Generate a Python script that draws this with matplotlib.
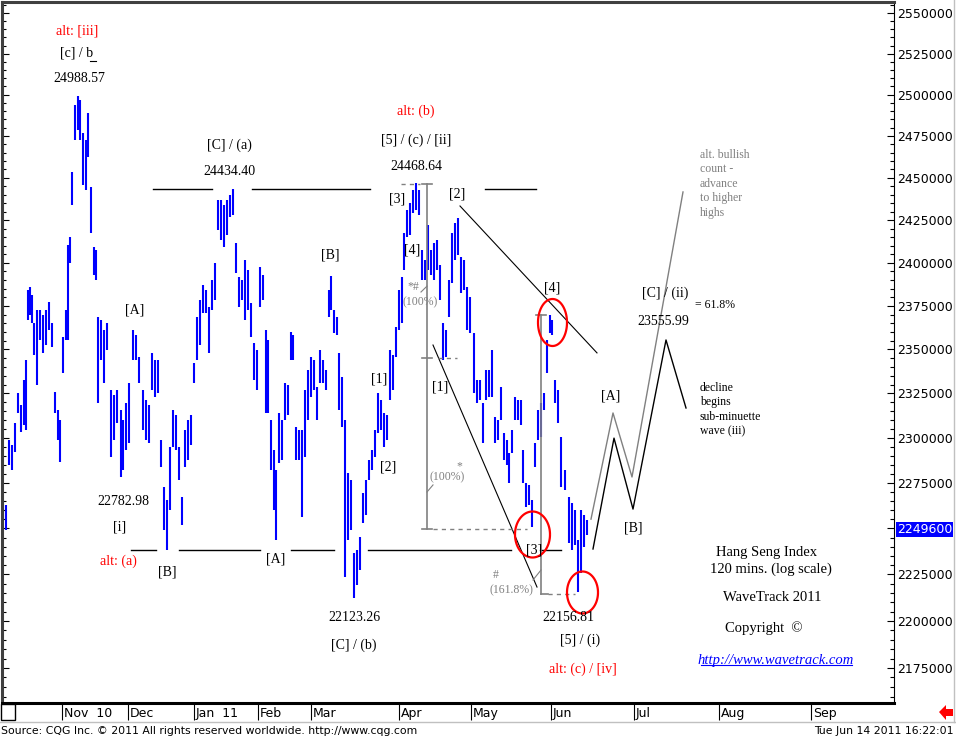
# load in packages
import numpy as np
import matplotlib
matplotlib.use("Agg")
import matplotlib.pyplot as plt
from matplotlib.path import Path
from matplotlib.lines import Line2D
from matplotlib.patches import Rectangle, Polygon
from matplotlib.ticker import FixedLocator, FuncFormatter, NullFormatter, NullLocator

# 120 min bars of the Hang Seng (x = session index)
bar_x = [3, 6, 9, 12, 15, 18, 21, 24, 26, 28, 30, 32, 34, 37, 40, 43, 46, 49, 52, 55,
         58, 60, 63, 66, 68, 70, 72, 75, 78, 80, 83, 86, 88, 91, 94, 96, 98, 101, 104, 107,
         111, 114, 117, 121, 123, 126, 129, 133, 136, 139, 143, 146, 149, 152, 155, 158, 161, 164, 167, 170,
         173, 176, 179, 182, 185, 188, 191, 194, 197, 200, 203, 206, 209, 212, 215, 218, 221, 224, 227, 230,
         233, 236, 239, 242, 245, 248, 251, 254, 257, 260, 263, 266, 268, 271, 274, 276, 279, 282, 285, 288,
         291, 293, 296, 299, 302, 305, 308, 311, 314, 317, 320, 323, 326, 329, 331, 334, 337, 339, 342, 345,
         348, 351, 354, 357, 360, 363, 366, 369, 372, 375, 378, 381, 384, 387, 390, 393, 396, 399, 402, 404,
         407, 410, 413, 416, 419, 422, 425, 428, 431, 434, 437, 440, 443, 446, 449, 452, 455, 458, 461, 464,
         467, 470, 474, 477, 480, 483, 486, 489, 492, 495, 498, 501, 504, 507, 509, 512, 515, 518, 521, 523,
         526, 529, 532, 535, 538, 541, 544, 547, 550, 552, 555, 558, 561, 565, 569, 572, 575, 578, 581, 584,
         587]
bar_hi = [22655, 22630, 22990, 22960, 23085, 23250, 23185, 23325, 23440, 23840, 23860, 23810, 23650, 23725, 23725, 23695, 23725, 23770, 23650, 23260,
          23155, 23100, 23570, 23725, 24105, 24150, 24535, 24935, 24989, 24965, 24770, 24725, 24890, 24445, 24090, 24075, 23685, 23670, 23610, 23650,
          23270, 23240, 23270, 23155, 23100, 23195, 23310, 23610, 23580, 23455, 23270, 23215, 23185, 23480, 23440, 23440, 22990, 22730, 22655, 22950,
          23155, 23130, 22950, 22670, 23045, 23100, 23130, 23425, 23685, 23785, 23870, 23840, 23745, 23900, 24000, 24370, 24370, 24340, 24370, 24400,
          24434, 24115, 23915, 23900, 24015, 23955, 23765, 23535, 23495, 23975, 23930, 23610, 23555, 23100, 22935, 22820, 23140, 23100, 23310, 23300,
          23600, 23580, 23060, 23045, 23045, 23270, 23385, 23455, 23440, 23285, 23495, 23440, 23385, 23840, 23920, 23725, 23685, 23480, 23345, 23100,
          22805, 22765, 22365, 22380, 22455, 22695, 22765, 22875, 22935, 23045, 23250, 23215, 23140, 23130, 23495, 23470, 23630, 23840, 23915, 24175,
          24310, 24350, 24430, 24469, 24430, 24075, 24015, 24220, 24075, 24115, 24135, 23985, 23650, 23610, 23900, 24175, 24230, 24260, 24035, 24015,
          23860, 23800, 23595, 23325, 23325, 23195, 23385, 23385, 23495, 23115, 23100, 23285, 23025, 22990, 22915, 23045, 23230, 23215, 23215, 22935,
          22750, 22740, 22655, 22970, 23155, 23195, 23250, 23555, 23695, 23670, 23325, 23270, 23005, 22820, 22670, 22640, 22600, 22435, 22600, 22575,
          22545]
bar_lo = [22545, 22490, 22850, 22820, 22920, 23140, 23035, 23070, 23045, 23670, 23695, 23650, 23470, 23300, 23555, 23480, 23525, 23610, 23515, 23140,
          22990, 22865, 23365, 23555, 23555, 24000, 24340, 24725, 24785, 24725, 24460, 24430, 24625, 24175, 23930, 23900, 23195, 23440, 23310, 23495,
          22895, 22990, 23085, 22783, 22820, 22935, 22970, 23440, 23440, 23310, 23045, 22990, 22970, 23270, 23230, 23250, 22840, 22490, 22380, 22600,
          22950, 22935, 22765, 22520, 22840, 22875, 22960, 23310, 23440, 23525, 23710, 23710, 23480, 23725, 23785, 24190, 24133, 24090, 24160, 24270,
          24280, 23940, 23745, 23785, 23670, 23725, 23570, 23325, 23270, 23745, 23785, 23140, 23140, 22820, 22600, 22435, 22860, 22875, 23100, 23130,
          23440, 23440, 22875, 22875, 22565, 22895, 23100, 23230, 23270, 23100, 23310, 23310, 23270, 23685, 23725, 23595, 23580, 23155, 23060, 22235,
          22435, 22490, 22123, 22195, 22275, 22530, 22575, 22765, 22820, 22895, 23025, 23045, 22950, 22990, 23215, 23270, 23455, 23610, 23650, 23955,
          24150, 24160, 24290, 24310, 24280, 23900, 23900, 23955, 23930, 23900, 23955, 23785, 23440, 23455, 23685, 23880, 24015, 24045, 23825, 23840,
          23610, 23595, 23250, 23195, 23215, 22970, 23215, 23230, 23230, 22970, 22990, 23100, 22875, 22850, 22750, 22915, 23100, 23100, 23070, 22750,
          22615, 22630, 22510, 22840, 22990, 23005, 23155, 23365, 23595, 23580, 23195, 23085, 22730, 22710, 22420, 22380, 22410, 22157, 22260, 22400,
          22465]
last_price = 22496

# month starts on the session axis
month_pos = [62, 128, 194, 258, 311, 399, 471, 551, 634, 719, 811]
month_lab = ["Nov  10", "Dec", "Jan  11", "Feb", "Mar", "Apr", "May", "Jun", "Jul", "Aug", "Sep"]

# projected paths
proj_x = [593, 614, 633, 666, 686]
proj_y = [22388, 22999, 22606, 23554, 23168]
alt_x = [591, 613, 632, 683]
alt_y = [22551, 23140, 22783, 24416]

# horizontal levels
upper_level = 24434.40
lower_level = 22382

SERIF = "Liberation Serif"
RED = "#ff0000"
GRAY = "#808080"

fig = plt.figure(figsize=(9.56, 7.39), dpi=100)
fig.patch.set_facecolor("white")
ax = fig.add_axes([2 / 956, 36 / 739, 892 / 956, 701 / 739])
ax.set_yscale("log")
ax.set_xlim(2, 894)
ax.set_ylim(21566, 25569)

# price bars
ax.vlines(bar_x, bar_lo, bar_hi, color="#0000ff", lw=1.5)

# y axis (values x 100 like the CQG scale)
major = np.arange(21750, 25501, 250)
ax.yaxis.set_major_locator(FixedLocator(major))
ax.yaxis.set_minor_locator(FixedLocator(np.arange(21600, 25551, 50)))
ax.yaxis.set_major_formatter(FuncFormatter(
    lambda v, p: "" if abs(v - 22500) < 1 else f"{int(round(v * 100))}"))
ax.yaxis.set_minor_formatter(NullFormatter())
ax.tick_params(axis="y", which="both", direction="in", left=True, right=True,
               labelleft=False, labelright=True, labelsize=9, pad=2, width=0.8)
ax.tick_params(axis="y", which="major", length=5)
ax.tick_params(axis="y", which="minor", length=3)

# x axis months
ax.set_xticks(month_pos)
ax.set_xticklabels([])
ax.xaxis.set_minor_locator(NullLocator())
ax.tick_params(axis="x", direction="out", length=12.5, width=0.8, color="black")
for p, lab in zip(month_pos, month_lab):
    ax.text(p + 2, -0.006, lab, transform=ax.get_xaxis_transform(), ha="left", va="top",
            fontsize=9, family="DejaVu Sans")

for s in ["left", "top"]:
    ax.spines[s].set_color("#404040")
    ax.spines[s].set_linewidth(2.2)
ax.spines["right"].set_linewidth(0.8)
ax.spines["bottom"].set_linewidth(2.2)

# last price box
ax.text(1.003, last_price, "2249600", transform=ax.get_yaxis_transform(), color="white",
        fontsize=9, va="center", ha="left", family="DejaVu Sans",
        bbox=dict(boxstyle="square,pad=0.08", fc="#0000ff", ec="none"))

# horizontal levels
for a, b in [(153, 212), (252, 370), (485, 536)]:
    ax.plot([a, b], [upper_level, upper_level], color="black", lw=1)
for a, b in [(131, 156), (179, 260), (291, 334), (368, 511), (540, 561)]:
    ax.plot([a, b], [lower_level, lower_level], color="black", lw=1)

# trend lines
ax.plot([460, 597], [24333, 23480], color="black", lw=0.8)
ax.plot([433, 537], [23525, 22182], color="black", lw=0.8)

# fibonacci measures
ax.plot([427, 427], [24463, 22496], color=GRAY, lw=1.2)
for y in [24463, 23451, 22496]:
    ax.plot([422, 432], [y, y], color=GRAY, lw=1.2)
ax.plot([401, 420], [24463, 24463], color=GRAY, lw=1, ls=(0, (3, 3)))
ax.plot([438, 457], [23451, 23451], color=GRAY, lw=1, ls=(0, (3, 3)))
ax.plot([433, 527], [22496, 22496], color=GRAY, lw=1, ls=(0, (3, 3)))
ax.plot([541, 541], [23697, 22144], color=GRAY, lw=1.2)
ax.plot([536, 546], [23697, 23697], color=GRAY, lw=1.2)
ax.plot([541, 548], [22144, 22144], color=GRAY, lw=1.2)
ax.plot([548, 575], [22144, 22144], color=GRAY, lw=1, ls=(0, (3, 3)))
ax.plot([421, 427], [23830, 23864], color=GRAY, lw=0.8)
ax.plot([427, 433], [22700, 22739], color=GRAY, lw=0.8)
ax.plot([533, 541], [22220, 22274], color=GRAY, lw=0.8)

# projections
ax.plot(alt_x, alt_y, color=GRAY, lw=1)
ax.plot(proj_x, proj_y, color="black", lw=1)


# red ellipses
def ellipse(w, h):
    t = np.linspace(0, 2 * np.pi, 80)
    return Path(np.column_stack([w / 2 * np.cos(t), h / 2 * np.sin(t)]))


for x, y, w, h in [(552, 23657, 29, 47), (532, 22470, 35, 46), (582, 22155, 31, 42)]:
    ax.plot([x], [y], marker=ellipse(w, h), ms=h * 0.72, mfc="none", mec=RED, mew=1.6)

# wave labels
labels = [
    (77, 25389, "alt: [iii]", RED), (77, 25254, "[c] / b", "black"), (79, 25101, "24988.57", "black"),
    (229, 24696, "[C] / (a)", "black"), (229, 24535, "24434.40", "black"),
    (416, 24901, "alt: (b)", RED), (416, 24726, "[5] / (c) / [ii]", "black"), (416, 24570, "24468.64", "black"),
    (397, 24374, "[3]", "black"), (457, 24404, "[2]", "black"), (412, 24074, "[4]", "black"),
    (330, 24045, "[B]", "black"), (135, 23726, "[A]", "black"), (379, 23332, "[1]", "black"),
    (440, 23286, "[1]", "black"), (388, 22839, "[2]", "black"), (552, 23852, "[4]", "black"),
    (534, 22382, "[3]", "black"), (123, 22650, "22782.98", "black"), (120, 22508, "[i]", "black"),
    (118, 22323, "alt: (a)", RED), (167, 22263, "[B]", "black"), (276, 22333, "[A]", "black"),
    (354, 22016, "22123.26", "black"), (354, 21872, "[C] / (b)", "black"),
    (568, 22016, "22156.81", "black"), (580, 21898, "[5] / (i)", "black"),
    (583, 21745, "alt: (c) / [iv]", RED), (665, 23824, "[C] / (ii)", "black"),
    (663, 23662, "23555.99", "black"), (611, 23235, "[A]", "black"), (633, 22502, "[B]", "black"),
]
for x, y, t, c in labels:
    ax.text(x, y, t, color=c, fontsize=10, family=SERIF, ha="center", va="center")
ax.plot([90, 96], [25205, 25205], color="black", lw=0.8)

for x, y, t in [(413, 23858, "*#"), (420, 23772, "(100%)"), (459, 22844, "*"),
                (447, 22783, "(100%)"), (496, 22247, "#"), (511, 22166, "(161.8%)")]:
    ax.text(x, y, t, color=GRAY, fontsize=8.5, family=SERIF, ha="center", va="center")

ax.text(715, 23755, "= 61.8%", fontsize=8.5, family=SERIF, ha="center", va="center")
ax.text(700, 24672, "alt. bullish\ncount -\nadvance\nto higher\nhighs", color=GRAY,
        fontsize=8.5, family=SERIF, ha="left", va="top", linespacing=1.27)
ax.text(700, 23315, "decline\nbegins\nsub-minuette\nwave (iii)", fontsize=8.5, family=SERIF,
        ha="left", va="top", linespacing=1.27)

# chart title block
ax.text(767, 22371, "Hang Seng Index", fontsize=10.5, family=SERIF, ha="center", va="center")
ax.text(771, 22279, "120 mins. (log scale)", fontsize=10.5, family=SERIF, ha="center", va="center")
ax.text(772, 22128, "WaveTrack 2011", fontsize=10.5, family=SERIF, ha="center", va="center")
ax.text(764, 21962, "Copyright  \u00a9", fontsize=10.5, family=SERIF, ha="center", va="center")
ax.text(776, 21792, "http://www.wavetrack.com", fontsize=10.5, family=SERIF, style="italic",
        color="#0000ff", ha="center", va="center")
ax.plot([701, 852], [21766, 21766], color="#0000ff", lw=0.8)

# footer
fig.add_artist(Line2D([0, 1], [17 / 739, 17 / 739], color="#c0c0c0", lw=1, transform=fig.transFigure))
fig.add_artist(Line2D([954 / 956, 954 / 956], [17 / 739, 1], color="#c0c0c0", lw=1, transform=fig.transFigure))
fig.text(1 / 956, 8 / 739, "Source: CQG Inc. \u00a9 2011 All rights reserved worldwide. http://www.cqg.com",
         fontsize=7.8, va="center", ha="left", family="DejaVu Sans")
fig.text(954 / 956, 8 / 739, "Tue Jun 14 2011 16:22:01", fontsize=7.8, va="center", ha="right",
         family="DejaVu Sans")
fig.add_artist(Rectangle((1 / 956, 19 / 739), 14 / 956, 16 / 739, fc="white", ec="black", lw=1,
                         transform=fig.transFigure))
arrow = [(939, 712), (946, 705), (946, 709), (953, 709), (953, 716), (946, 716), (946, 720)]
fig.add_artist(Polygon([(x / 956, (739 - y) / 739) for x, y in arrow], closed=True, fc=RED, ec="none",
                       transform=fig.transFigure))

plt.savefig("out.png", dpi=100)
